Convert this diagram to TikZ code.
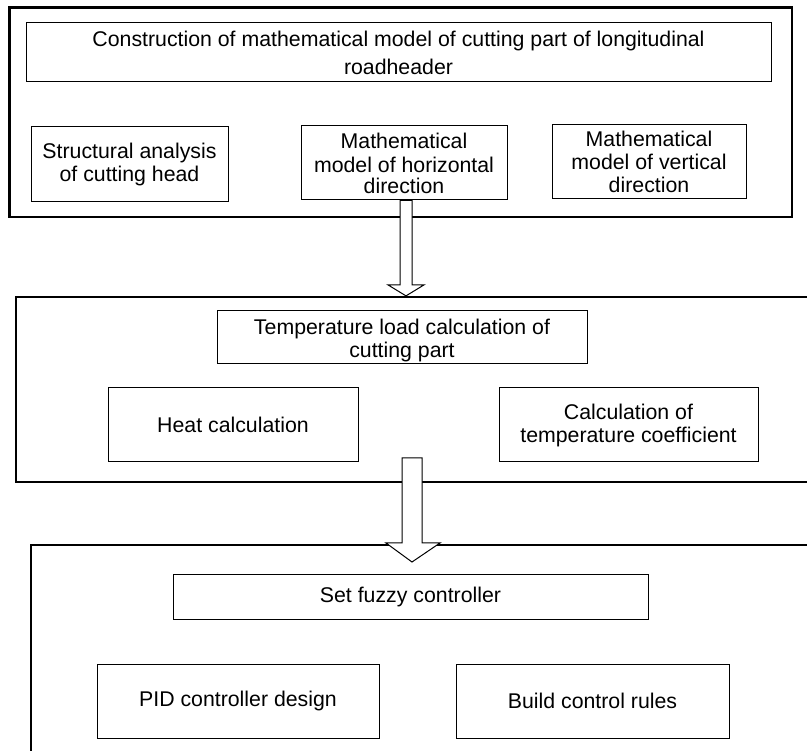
\documentclass[tikz,border=0pt]{standalone}
\usepackage{fontspec}
\setmainfont{Liberation Sans}
\usetikzlibrary{calc}
\begin{document}
\begin{tikzpicture}[x=1pt,y=-1pt,
  box/.style={draw, line width=1pt, inner sep=0pt, align=center, font=\fontsize{21.3}{23}\selectfont},
  outerbox/.style={draw, line width=2.2pt, inner sep=0pt},
  blockarrow/.style={draw, line width=1pt, fill=white, line join=miter}]
\useasboundingbox (0,0) rectangle (807,751);
\clip (0,0) rectangle (807,751);
% outer groups
\node[outerbox, minimum width=782.5pt, minimum height=209.5pt] (g1) at (400.75,112.25) {};
\node[outerbox, minimum width=814pt, minimum height=185pt] (g2) at (423,389.5) {};
\node[outerbox, minimum width=799pt, minimum height=235pt] (g3) at (430.5,662.5) {};
% group 1
\node[box, minimum width=745pt, minimum height=59pt, font=\fontsize{21.3}{28}\selectfont] (t1) at (398.5,52.5)
  {Construction of mathematical model of cutting part of longitudinal\\roadheader};
\node[box, minimum width=197pt, minimum height=75pt] (s1) at (129.5,164.5)
  {Structural analysis\\of cutting head};
\node[box, minimum width=206pt, minimum height=74pt, font=\fontsize{21.3}{24}\selectfont] (h1) at (404,163)
  {Mathematical\\model of horizontal\\[-3pt]direction};
\node[box, minimum width=194pt, minimum height=74pt] (v1) at (649,162)
  {Mathematical\\model of vertical\\direction};
% group 2
\node[box, minimum width=370pt, minimum height=53pt] (t2) at (402,337.5)
  {\rule{0pt}{22pt}Temperature load calculation of\\cutting part};
\node[box, minimum width=250pt, minimum height=74pt] (heat) at (233,425) {Heat calculation};
\node[box, minimum width=259pt, minimum height=74pt] (coef) at (628.5,425)
  {Calculation of\\temperature coefficient};
% group 3
\node[box, minimum width=475pt, minimum height=44pt] (fz) at (410.5,597) {Set fuzzy controller};
\node[box, minimum width=282pt, minimum height=74pt] (pid) at (238,701) {PID controller design};
\node[box, minimum width=273pt, minimum height=74pt] (rules) at (592.5,701) {Build control rules};
% block arrows
\coordinate (a1s) at ([xshift=2pt]h1.south);
\coordinate (a1e) at (a1s |- g2.north);
\draw[blockarrow] ($(a1s)+(-6,0)$) -- ($(a1e)+(-6,-11)$) -- ($(a1e)+(-18,-11)$) -- (a1e)
  -- ($(a1e)+(18,-11)$) -- ($(a1e)+(6,-11)$) -- ($(a1s)+(6,0)$) -- cycle;
\coordinate (a2s) at (412,458);
\coordinate (a2e) at (412,562);
\draw[blockarrow] ($(a2s)+(-10,0)$) -- ($(a2e)+(-10,-19)$) -- ($(a2e)+(-26,-19)$) -- (a2e)
  -- ($(a2e)+(28,-19)$) -- ($(a2e)+(10,-19)$) -- ($(a2s)+(10,0)$) -- cycle;
\end{tikzpicture}
\end{document}
